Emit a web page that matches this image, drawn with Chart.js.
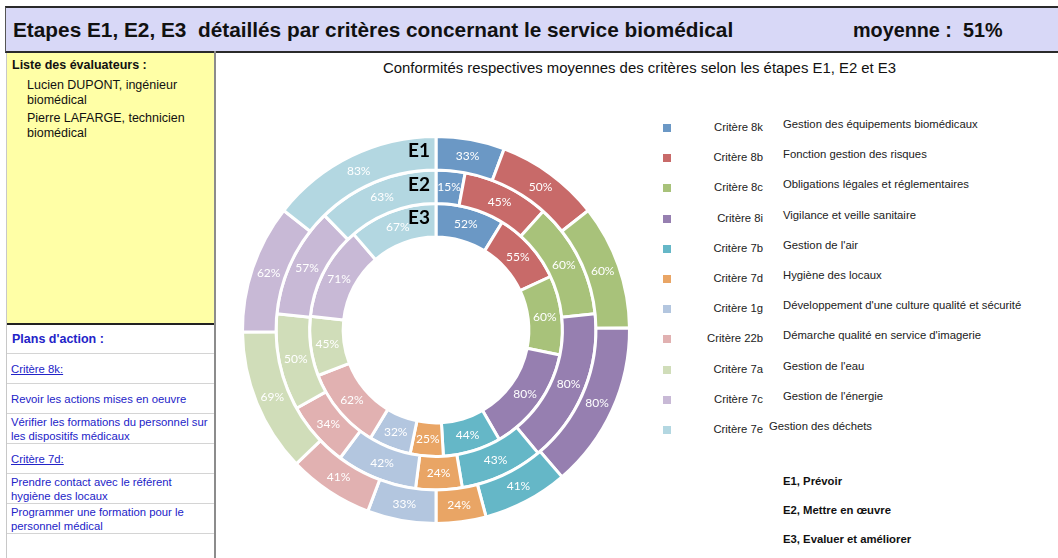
<!DOCTYPE html>
<html>
<head>
<meta charset="utf-8">
<script src="https://cdn.jsdelivr.net/npm/chart.js@4.4.1/dist/chart.umd.min.js"></script>
<style>
  body { margin: 0; width: 1058px; height: 558px; background: #fff; font-family: "Liberation Sans", Arial, sans-serif; position: relative; overflow: hidden; }
  .abs { position: absolute; }
  #header { left: 5px; top: 6px; width: 1060px; height: 43px; background: #d8d8f7; border-top: 2px solid #2a2a2a; border-bottom: 2px solid #2a2a2a; border-left: 1px solid #555; }
  #header .t { position: absolute; top: 10px; font-weight: bold; color: #111; white-space: nowrap; }
  #evals { left: 6px; top: 53px; width: 208px; height: 270px; background: #ffffa6; border-bottom: 2px solid #222; }
  #evals .h { position: absolute; left: 6px; top: 5px; font-weight: bold; font-size: 12.5px; color: #111; }
  #evals .p { position: absolute; left: 21px; font-size: 12.5px; line-height: 15px; color: #111; width: 190px; }
  #vline { left: 214px; top: 51px; width: 2px; height: 507px; background: #8c8c8c; }
  #lline { left: 6px; top: 53px; width: 1px; height: 505px; background: #c8c8c8; }
  .plan { position: absolute; left: 7px; width: 207px; border-bottom: 1px solid #d4d4d4; color: #2323c8; font-size: 11.3px; line-height: 14px; box-sizing: border-box; padding-left: 4px; display: flex; align-items: center; }
  .plan.u span { text-decoration: underline; }
  .plan.b { font-weight: bold; font-size: 12.5px; padding-left: 5px; }
  #ctitle { left: 217px; width: 845px; top: 60px; text-align: center; font-size: 14.9px; color: #111; }
  canvas { position: absolute; left: 217px; top: 52px; }
  .lg { position: absolute; font-size: 11.3px; color: #222; white-space: nowrap; }
  .sq { position: absolute; width: 8px; height: 8px; }
  .crit { position: absolute; right: 295px; text-align: right; }
  .et { position: absolute; left: 783px; font-weight: bold; font-size: 11.3px; color: #111; }
</style>
</head>
<body>
<div id="header" class="abs">
  <span class="t" style="left:7px; font-size:20.8px">Etapes E1, E2, E3&nbsp; détaillés par critères concernant le service biomédical</span>
  <span class="t" style="left:847px; font-size:19.8px; top:11px">moyenne :&nbsp; 51%</span>
</div>
<div id="evals" class="abs">
  <div class="h">Liste des évaluateurs :</div>
  <div class="p" style="top:25px">Lucien DUPONT, ingénieur biomédical</div>
  <div class="p" style="top:58px">Pierre LAFARGE, technicien biomédical</div>
</div>
<div id="lline" class="abs"></div>
<div id="vline" class="abs"></div>
<div id="plans"></div>
<div id="ctitle" class="abs">Conformités respectives moyennes des critères selon les étapes E1, E2 et E3</div>
<div id="legend"></div>
<canvas id="ringChart" width="841" height="506"></canvas>
<script>
const criteres = ['Critère 8k', 'Critère 8b', 'Critère 8c', 'Critère 8i', 'Critère 7b', 'Critère 7d', 'Critère 1g', 'Critère 22b', 'Critère 7a', 'Critère 7c', 'Critère 7e'];
const descriptions = ['Gestion des équipements biomédicaux', 'Fonction gestion des risques', 'Obligations légales et réglementaires', 'Vigilance et veille sanitaire', "Gestion de l'air", 'Hygiène des locaux', "Développement d'une culture qualité et sécurité", "Démarche qualité en service d'imagerie", "Gestion de l'eau", "Gestion de l'énergie", 'Gestion des déchets'];
const e1Values = [33, 50, 60, 80, 41, 24, 33, 41, 69, 62, 83];
const e2Values = [15, 45, 60, 80, 43, 24, 42, 34, 50, 57, 63];
const e3Values = [52, 55, 60, 80, 44, 25, 32, 62, 45, 71, 67];
const etapes = ['E1', 'E2', 'E3'];
const etapeNames = ['E1, Prévoir', 'E2, Mettre en œuvre', 'E3, Evaluer et améliorer'];
const colors = ['#6b98c5', '#c86a69', '#a8c27a', '#967fb0', '#65b7c7', '#e9a565', '#b3c6df', '#e1b1b1', '#d0ddb9', '#c8b9d6', '#b3d7e1'];

const plans = [
  {text: "Plans d'action :", cls: 'b', h: 29},
  {text: 'Critère 8k:', cls: 'u', h: 30},
  {text: 'Revoir les actions mises en oeuvre', cls: '', h: 30},
  {text: 'Vérifier les formations du personnel sur les dispositifs médicaux', cls: '', h: 30},
  {text: 'Critère 7d:', cls: 'u', h: 30},
  {text: 'Prendre contact avec le référent hygiène des locaux', cls: '', h: 30},
  {text: 'Programmer une formation pour le personnel médical', cls: '', h: 30}
];

// left column : plans d'action
let y = 325;
const plansDiv = document.getElementById('plans');
plans.forEach(p => {
  const d = document.createElement('div');
  d.className = 'plan ' + p.cls;
  d.style.top = y + 'px';
  d.style.height = p.h + 'px';
  d.innerHTML = '<span>' + p.text + '</span>';
  plansDiv.appendChild(d);
  y += p.h;
});

// legend on the right
const legendDiv = document.getElementById('legend');
criteres.forEach((c, i) => {
  const cy = 127 + i * 30.2;
  const sq = document.createElement('div');
  sq.className = 'sq';
  sq.style.left = '663px';
  sq.style.top = (cy - 3) + 'px';
  sq.style.background = colors[i];
  legendDiv.appendChild(sq);
  const lab = document.createElement('div');
  lab.className = 'lg crit';
  lab.style.top = (cy - 6) + 'px';
  lab.textContent = c;
  legendDiv.appendChild(lab);
  const desc = document.createElement('div');
  desc.className = 'lg';
  desc.style.left = (i === criteres.length - 1 ? 769 : 783) + 'px';
  desc.style.top = (cy - 9) + 'px';
  desc.textContent = descriptions[i];
  legendDiv.appendChild(desc);
});
etapeNames.forEach((t, i) => {
  const d = document.createElement('div');
  d.className = 'et';
  d.style.top = (475 + i * 29) + 'px';
  d.textContent = t;
  legendDiv.appendChild(d);
});

// labels drawn in the slices + E1/E2/E3 marks
const sliceLabels = {
  id: 'sliceLabels',
  afterDatasetsDraw(chart) {
    const ctx = chart.ctx;
    ctx.save();
    chart.data.datasets.forEach((ds, di) => {
      const meta = chart.getDatasetMeta(di);
      meta.data.forEach((arc, i) => {
        const p = arc.getCenterPoint();
        ctx.fillStyle = '#ffffff';
        ctx.font = '12px Lato, "Liberation Sans", sans-serif';
        ctx.textAlign = 'center';
        ctx.textBaseline = 'middle';
        ctx.fillText(ds.data[i] + '%', p.x, p.y);
      });
      const a = meta.data[0];
      const r = (a.innerRadius + a.outerRadius) / 2;
      ctx.fillStyle = '#000';
      ctx.font = 'bold 19px Lato, "Liberation Sans", sans-serif';
      ctx.textAlign = 'right';
      ctx.textBaseline = 'middle';
      ctx.fillText(etapes[di], a.x - 6, a.y - r - 2);
    });
    ctx.restore();
  }
};

const ctx = document.getElementById('ringChart').getContext('2d');
new Chart(ctx, {
  type: 'doughnut',
  data: {
    labels: criteres,
    datasets: [
      {label: etapes[0], data: e1Values, backgroundColor: colors, borderColor: '#fff', borderWidth: 3},
      {label: etapes[1], data: e2Values, backgroundColor: colors, borderColor: '#fff', borderWidth: 3},
      {label: etapes[2], data: e3Values, backgroundColor: colors, borderColor: '#fff', borderWidth: 3}
    ]
  },
  options: {
    responsive: false,
    animation: false,
    cutout: '48%',
    layout: {padding: {left: 24, right: 427, top: 83, bottom: 33}},
    plugins: {
      legend: {display: false},
      tooltip: {enabled: false},
      title: {display: false}
    }
  },
  plugins: [sliceLabels]
});
</script>
</body>
</html>
